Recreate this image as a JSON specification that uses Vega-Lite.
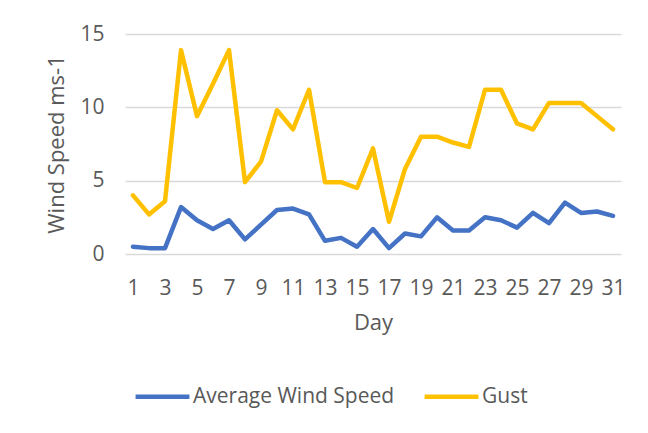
{
  "$schema": "https://vega.github.io/schema/vega-lite/v6.json",
  "width": 496,
  "height": 220,
  "autosize": {"type": "none"},
  "padding": {"left": 125, "top": 34, "right": 27, "bottom": 179},
  "background": "white",
  "config": {
    "font": "Open Sans",
    "view": {"stroke": null},
    "axis": {"labelColor": "#595959", "titleColor": "#595959", "labelFont": "Open Sans", "titleFont": "Open Sans"},
    "legend": {"labelColor": "#595959", "labelFont": "Open Sans"}
  },
  "data": {
    "values": [
      {"day": 1, "series": "Average Wind Speed", "value": 0.5},
      {"day": 2, "series": "Average Wind Speed", "value": 0.4},
      {"day": 3, "series": "Average Wind Speed", "value": 0.4},
      {"day": 4, "series": "Average Wind Speed", "value": 3.2},
      {"day": 5, "series": "Average Wind Speed", "value": 2.3},
      {"day": 6, "series": "Average Wind Speed", "value": 1.7},
      {"day": 7, "series": "Average Wind Speed", "value": 2.3},
      {"day": 8, "series": "Average Wind Speed", "value": 1.0},
      {"day": 9, "series": "Average Wind Speed", "value": 2.0},
      {"day": 10, "series": "Average Wind Speed", "value": 3.0},
      {"day": 11, "series": "Average Wind Speed", "value": 3.1},
      {"day": 12, "series": "Average Wind Speed", "value": 2.7},
      {"day": 13, "series": "Average Wind Speed", "value": 0.9},
      {"day": 14, "series": "Average Wind Speed", "value": 1.1},
      {"day": 15, "series": "Average Wind Speed", "value": 0.5},
      {"day": 16, "series": "Average Wind Speed", "value": 1.7},
      {"day": 17, "series": "Average Wind Speed", "value": 0.4},
      {"day": 18, "series": "Average Wind Speed", "value": 1.4},
      {"day": 19, "series": "Average Wind Speed", "value": 1.2},
      {"day": 20, "series": "Average Wind Speed", "value": 2.5},
      {"day": 21, "series": "Average Wind Speed", "value": 1.6},
      {"day": 22, "series": "Average Wind Speed", "value": 1.6},
      {"day": 23, "series": "Average Wind Speed", "value": 2.5},
      {"day": 24, "series": "Average Wind Speed", "value": 2.3},
      {"day": 25, "series": "Average Wind Speed", "value": 1.8},
      {"day": 26, "series": "Average Wind Speed", "value": 2.8},
      {"day": 27, "series": "Average Wind Speed", "value": 2.1},
      {"day": 28, "series": "Average Wind Speed", "value": 3.5},
      {"day": 29, "series": "Average Wind Speed", "value": 2.8},
      {"day": 30, "series": "Average Wind Speed", "value": 2.9},
      {"day": 31, "series": "Average Wind Speed", "value": 2.6},
      {"day": 1, "series": "Gust", "value": 4.0},
      {"day": 2, "series": "Gust", "value": 2.7},
      {"day": 3, "series": "Gust", "value": 3.6},
      {"day": 4, "series": "Gust", "value": 13.9},
      {"day": 5, "series": "Gust", "value": 9.4},
      {"day": 6, "series": "Gust", "value": 11.6},
      {"day": 7, "series": "Gust", "value": 13.9},
      {"day": 8, "series": "Gust", "value": 4.9},
      {"day": 9, "series": "Gust", "value": 6.3},
      {"day": 10, "series": "Gust", "value": 9.8},
      {"day": 11, "series": "Gust", "value": 8.5},
      {"day": 12, "series": "Gust", "value": 11.2},
      {"day": 13, "series": "Gust", "value": 4.9},
      {"day": 14, "series": "Gust", "value": 4.9},
      {"day": 15, "series": "Gust", "value": 4.5},
      {"day": 16, "series": "Gust", "value": 7.2},
      {"day": 17, "series": "Gust", "value": 2.2},
      {"day": 18, "series": "Gust", "value": 5.8},
      {"day": 19, "series": "Gust", "value": 8.0},
      {"day": 20, "series": "Gust", "value": 8.0},
      {"day": 21, "series": "Gust", "value": 7.6},
      {"day": 22, "series": "Gust", "value": 7.3},
      {"day": 23, "series": "Gust", "value": 11.2},
      {"day": 24, "series": "Gust", "value": 11.2},
      {"day": 25, "series": "Gust", "value": 8.9},
      {"day": 26, "series": "Gust", "value": 8.5},
      {"day": 27, "series": "Gust", "value": 10.3},
      {"day": 28, "series": "Gust", "value": 10.3},
      {"day": 29, "series": "Gust", "value": 10.3},
      {"day": 30, "series": "Gust", "value": 9.4},
      {"day": 31, "series": "Gust", "value": 8.5}
    ]
  },
  "mark": {"type": "line", "strokeWidth": 4.5, "strokeCap": "round", "strokeJoin": "round"},
  "encoding": {
    "x": {
      "field": "day",
      "type": "ordinal",
      "scale": {"type": "point", "padding": 0.5},
      "axis": {
        "title": "Day",
        "values": [1, 3, 5, 7, 9, 11, 13, 15, 17, 19, 21, 23, 25, 27, 29, 31],
        "labelAngle": 0,
        "labelFontSize": 21,
        "labelPadding": 23,
        "ticks": false,
        "domain": false,
        "grid": false,
        "titleFontSize": 22,
        "titleFontWeight": "normal",
        "titlePadding": 14
      }
    },
    "y": {
      "field": "value",
      "type": "quantitative",
      "scale": {"domain": [0, 15], "nice": false},
      "axis": {
        "title": "Wind Speed ms-1",
        "values": [0, 5, 10, 15],
        "labelFontSize": 21,
        "labelPadding": 21,
        "ticks": false,
        "domain": false,
        "grid": true,
        "gridColor": "#D9D9D9",
        "gridWidth": 1.3,
        "titleFontSize": 22,
        "titleFontWeight": "normal",
        "titlePadding": 11
      }
    },
    "color": {
      "field": "series",
      "type": "nominal",
      "scale": {"domain": ["Average Wind Speed", "Gust"], "range": ["#4472C4", "#FFC000"]},
      "legend": {
        "title": null,
        "orient": "none",
        "direction": "horizontal",
        "legendX": 8,
        "legendY": 333,
        "symbolType": "stroke",
        "symbolSize": 2900,
        "symbolStrokeWidth": 4.5,
        "labelFontSize": 21,
        "labelOffset": 1,
        "columnPadding": 20,
        "labelLimit": 400
      }
    }
  }
}
